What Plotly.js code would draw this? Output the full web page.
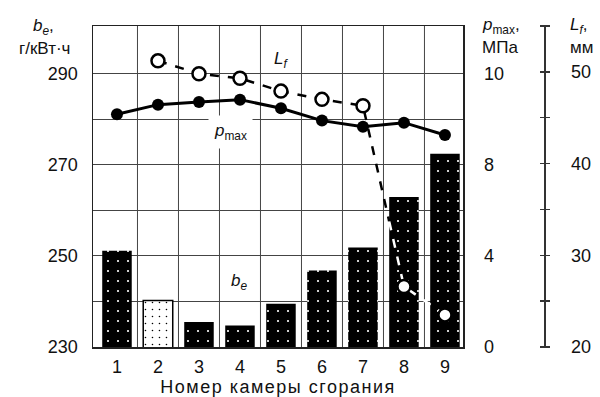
<!DOCTYPE html>
<html><head><meta charset="utf-8">
<script src="https://cdn.plot.ly/plotly-3.0.1.min.js"></script>
<style>body{margin:0;background:#fff}#chart{width:600px;height:397px}.xtitle{letter-spacing:1.5px}</style>
</head><body><div id="chart"></div>
<script>
// ---- data ----
const chambers = [1, 2, 3, 4, 5, 6, 7, 8, 9];
const xTickLabels = ['1', '2', '3', '4', '5', '6', '7', '8', '9'];
const beValues = [251.1, 240.2, 235.5, 234.7, 239.5, 246.8, 251.8, 262.9, 272.4];
const pmaxValues = [10.21, 10.63, 10.75, 10.85, 10.47, 9.93, 9.66, 9.84, 9.30];
const lfChambers = [2, 3, 4, 5, 6, 7, 8, 9];
const lfValues = [51.2, 49.8, 49.3, 47.9, 47.0, 46.3, 26.6, 23.5];
const beTickVals = [230, 240, 250, 260, 270, 280, 290];
const beTickText = ['230', '', '250', '', '270', '', '290'];
const pmaxTickVals = [0, 4, 8, 12];
const pmaxTickText = ['0', '4', '8', '10'];
const lfTickVals = [20, 25, 30, 35, 40, 45, 50, 55];
const lfTickText = ['20', '', '30', '', '40', '', '50', ''];
const highlightChamber = 2;

// ---- geometry ----
const W = 600, H = 397, ML = 93, MR = 40, MT = 26, MB = 50;
const paperW = W - ML - MR;
const paperH = H - MT - MB;
const px = x => (x - ML) / paperW;
const py = y => (H - MB - y) / paperH;
const FONT = 'Liberation Sans, Arial, sans-serif';
const barWidth = 0.72;

const darkX = [], darkY = [], lightX = [], lightY = [];
chambers.forEach((c, i) => {
  if (c === highlightChamber) { lightX.push(c); lightY.push(beValues[i]); }
  else { darkX.push(c); darkY.push(beValues[i]); }
});

// Lf line: black outside bar 8, white inside the dark bars
const i7 = lfChambers.indexOf(7), i8 = lfChambers.indexOf(8);
const xEntry = lfChambers[i8] - barWidth / 2;
const tEntry = (xEntry - lfChambers[i7]) / (lfChambers[i8] - lfChambers[i7]);
const lEntry = lfValues[i7] + tEntry * (lfValues[i8] - lfValues[i7]);
const blackX = lfChambers.slice(0, i7 + 1).concat([xEntry]);
const blackY = lfValues.slice(0, i7 + 1).concat([lEntry]);
const whiteX = [xEntry].concat(lfChambers.slice(i8));
const whiteY = [lEntry].concat(lfValues.slice(i8));

const traces = [
  {type: 'bar', x: darkX, y: darkY, width: barWidth, yaxis: 'y',
   marker: {color: '#000', line: {color: '#000', width: 0},
            pattern: {shape: '.', fillmode: 'replace', fgcolor: '#fff', bgcolor: '#000', size: 10, solidity: 0.035}},
   showlegend: false},
  {type: 'bar', x: lightX, y: lightY, width: barWidth, yaxis: 'y',
   marker: {color: '#fff', line: {color: '#000', width: 1.5},
            pattern: {shape: '.', fillmode: 'replace', fgcolor: '#000', bgcolor: '#fff', size: 7, solidity: 0.04}},
   showlegend: false},
  {type: 'scatter', mode: 'lines+markers', x: chambers, y: pmaxValues, yaxis: 'y2',
   line: {color: '#000', width: 3}, marker: {size: 12, color: '#000'}, showlegend: false},
  {type: 'scatter', mode: 'lines', x: blackX, y: blackY, yaxis: 'y3',
   line: {color: '#000', width: 2.5, dash: 'dash'}, showlegend: false, hoverinfo: 'skip'},
  {type: 'scatter', mode: 'lines', x: whiteX, y: whiteY, yaxis: 'y3',
   line: {color: '#fff', width: 2.5, dash: 'dash'}, showlegend: false, hoverinfo: 'skip'},
  {type: 'scatter', mode: 'markers', x: lfChambers, y: lfValues, yaxis: 'y4',
   marker: {symbol: 'circle', size: 13, color: '#fff', line: {color: '#000', width: 2.5}}, showlegend: false}
];

const shapes = [];
for (let i = 0; i < chambers.length - 1; i++) {
  const xv = (chambers[i] + chambers[i + 1]) / 2;
  shapes.push({type: 'line', xref: 'x', yref: 'paper', x0: xv, x1: xv, y0: 0, y1: 1,
               line: {color: '#444', width: 1}, layer: 'below'});
}

const ann = (x, y, text, xanchor, size, extra) => Object.assign({
  xref: 'paper', yref: 'paper', x: px(x), y: py(y), xanchor: xanchor, yanchor: 'middle',
  text: text, showarrow: false, font: {size: size}}, extra || {});

const layout = {
  width: W, height: H,
  margin: {l: ML, r: MR, t: MT, b: MB, pad: 0},
  paper_bgcolor: '#fff', plot_bgcolor: '#fff',
  font: {family: FONT, size: 18, color: '#111'},
  showlegend: false,
  barmode: 'overlay',
  xaxis: {domain: [0, 370 / paperW], range: [0.415, 9.44], tickvals: chambers, ticktext: xTickLabels,
          showgrid: false, zeroline: false, showline: true, mirror: true, linecolor: '#222', linewidth: 1.5,
          ticks: '', ticklabelstandoff: 3, tickfont: {size: 18},
          title: {text: 'Номер камеры сгорания', font: {size: 18}, standoff: 9}},
  yaxis: {range: [230, 300.4], tickvals: beTickVals, ticktext: beTickText, showgrid: true,
          gridcolor: '#444', gridwidth: 1, zeroline: false, showline: true, mirror: true,
          linecolor: '#222', linewidth: 1.5, ticks: '', ticklabelstandoff: 10, tickfont: {size: 18}},
  yaxis2: {overlaying: 'y', side: 'right', anchor: 'x', range: [0, 14.08], tickvals: pmaxTickVals,
           ticktext: pmaxTickText, showgrid: false, zeroline: false, showline: false, ticks: '',
           ticklabelstandoff: 20, tickfont: {size: 18}},
  yaxis3: {overlaying: 'y', side: 'right', anchor: 'free', position: px(544), range: [20, 55],
           tickvals: lfTickVals, ticktext: lfTickText, showgrid: false, zeroline: false,
           showline: true, linecolor: '#333', linewidth: 1.5, ticks: '', ticklabelstandoff: 22,
           tickfont: {size: 18}},
  yaxis4: {overlaying: 'y', side: 'right', anchor: 'free', position: px(539), range: [20, 55],
           tickvals: lfTickVals, showticklabels: false, showgrid: false, zeroline: false,
           showline: false, ticks: 'outside', ticklen: 10, tickwidth: 1.5, tickcolor: '#333'},
  shapes: shapes,
  annotations: [
    {xref: 'x', yref: 'y', x: 3.78, y: 277.2, text: '<i>p</i><sub>max</sub>', showarrow: false,
     bgcolor: '#fff', borderpad: 5, font: {size: 17}},
    {xref: 'x', yref: 'y', x: 5.0, y: 293.0, text: '<i>L<sub>f</sub></i>', showarrow: false, font: {size: 17}},
    {xref: 'x', yref: 'y', x: 3.98, y: 244.3, text: '<i>b<sub>e</sub></i>', showarrow: false, font: {size: 17}},
    ann(43, 27, '<i>b<sub>e</sub></i>,', 'center', 17),
    ann(44, 48, 'г/кВт·ч', 'center', 17),
    ann(480, 26, '<i>p</i><sub>max</sub>,', 'left', 17),
    ann(480, 47, 'МПа', 'left', 17),
    ann(568, 26, '<i>L<sub>f</sub></i>,', 'left', 17),
    ann(568, 47, 'мм', 'left', 17)
  ]
};

Plotly.newPlot('chart', traces, layout, {staticPlot: true, displayModeBar: false});
</script>
</body></html>
